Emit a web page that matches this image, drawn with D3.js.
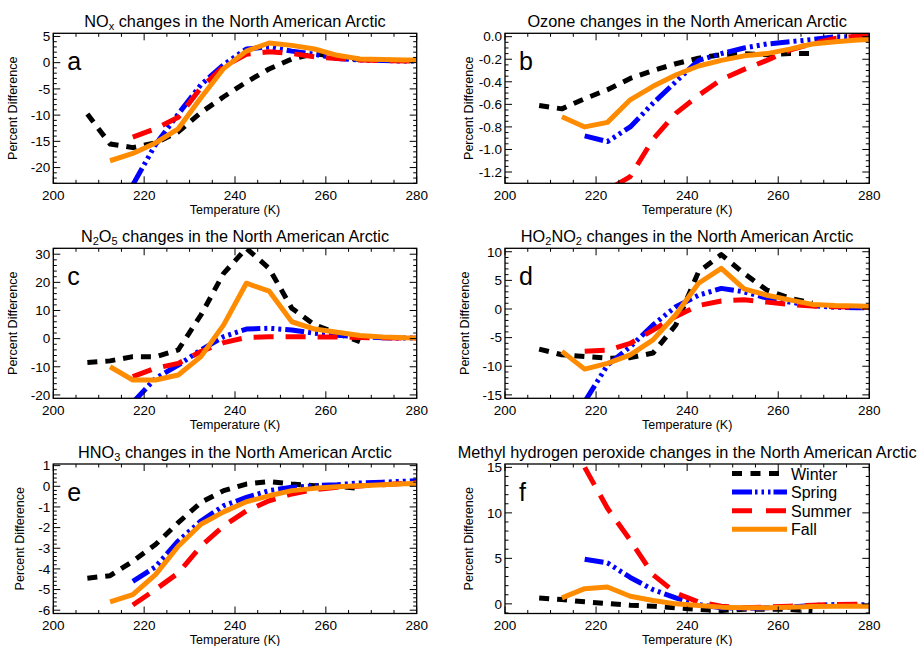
<!DOCTYPE html>
<html><head><meta charset="utf-8">
<script src="https://cdn.jsdelivr.net/npm/d3@7"></script>
<style>
html,body{margin:0;padding:0;background:#fff;}
text{font-family:"Liberation Sans",Arial,Helvetica,sans-serif;fill:#000;}
</style></head>
<body>
<svg id="chart" width="917" height="646"></svg>
<script>
// ---------- DATA ----------
const temps = [207.5,212.5,217.5,222.5,227.5,232.5,237.5,242.5,247.5,252.5,257.5,262.5,267.5,272.5,277.5,282.5];
const seasons = ["Winter","Spring","Summer","Fall"];

// a: NOx
const noxWinter = [-9.8,-15.5,-16.2,-15.3,-13.2,-9.5,-6.5,-3.7,-1.2,0.7,1.7,1.2,0.6,null,null,null];
const noxSpring = [null,null,-23.3,-15.6,-9.8,-4.2,-0.4,2.6,3.0,2.2,1.6,0.8,0.5,0.4,0.3,0.3];
const noxSummer = [null,null,-14.2,-12.6,-10.4,-4.8,-0.75,1.6,2.1,1.75,1.1,0.8,0.5,0.4,0.3,0.3];
const noxFall   = [null,-18.7,-17.3,-15.3,-12.6,-6.7,-1.1,2.2,3.75,3.3,2.6,1.4,0.7,0.6,0.5,0.5];
// b: Ozone
const o3Winter = [-0.61,-0.64,-0.55,-0.47,-0.37,-0.30,-0.24,-0.19,-0.16,-0.15,-0.16,-0.15,-0.15,null,null,null];
const o3Spring = [null,null,-0.88,-0.93,-0.80,-0.59,-0.40,-0.21,-0.15,-0.10,-0.065,-0.045,-0.025,0,0,0];
const o3Summer = [null,null,-1.42,-1.36,-1.24,-0.91,-0.68,-0.52,-0.38,-0.29,-0.21,-0.12,-0.06,-0.015,0.005,0.01];
const o3Fall   = [null,-0.71,-0.80,-0.76,-0.56,-0.44,-0.34,-0.26,-0.21,-0.17,-0.15,-0.11,-0.065,-0.045,-0.03,-0.02];
// c: N2O5
const n2o5Winter = [-8.5,-7.9,-6.4,-6.5,-4.0,8.4,23.2,32.1,25,10.8,4.9,1.9,-1.1,null,null,null];
const n2o5Spring = [null,null,-22.7,-14.1,-9.4,-4.0,0.7,3.4,3.7,3.1,1.9,1.2,0.7,0.3,0.2,0.2];
const n2o5Summer = [null,null,-13.5,-10.5,-8.8,-4.6,-1.4,0.4,0.7,0.7,0.6,0.6,0.4,0.3,0.2,0.2];
const n2o5Fall   = [null,-10,-14.7,-14.7,-12.9,-6.4,4.9,19.7,16.9,6.0,3.4,2.3,1.1,0.6,0.3,0.2];
// d: HO2NO2
const pnaWinter = [-7.0,-8.0,-8.3,-8.6,-8.5,-7.7,-2.8,6.5,9.5,6.2,3.3,1.9,1.0,null,null,null];
const pnaSpring = [null,null,-16.2,-9.8,-6.6,-2.8,0.4,2.4,3.6,3.0,1.9,1.2,0.6,0.3,0.2,0.2];
const pnaSummer = [null,null,-7.4,-7.2,-6.0,-3.7,-1.3,0.6,1.4,1.6,1.2,0.8,0.5,0.4,0.3,0.3];
const pnaFall   = [null,-7.4,-10.5,-9.5,-8.0,-5.4,-1.0,4.5,7.1,3.5,2.4,1.6,0.8,0.6,0.5,0.4];
// e: HNO3
const hno3Winter = [-4.45,-4.33,-3.63,-2.82,-1.76,-0.78,-0.21,0.11,0.23,0.11,0.03,0,-0.1,null,null,null];
const hno3Spring = [null,null,-4.6,-3.9,-2.65,-1.68,-0.94,-0.54,-0.21,-0.05,0.03,0.08,0.16,0.2,0.25,0.28];
const hno3Summer = [null,null,-5.75,-5.0,-4.2,-2.9,-1.92,-1.19,-0.70,-0.37,-0.16,-0.05,0.02,0.08,0.15,0.2];
const hno3Fall   = [null,-5.6,-5.25,-4.28,-2.9,-1.84,-1.24,-0.75,-0.46,-0.21,-0.1,-0.02,0.03,0.07,0.12,0.15];
// f: Methyl hydrogen peroxide
const mhpWinter = [0.65,0.47,0.22,0.04,-0.15,-0.25,-0.44,-0.6,-0.73,-0.6,-0.6,-0.6,-0.8,null,null,null];
const mhpSpring = [null,null,4.9,4.5,2.9,1.56,0.65,-0.07,-0.44,-0.5,-0.44,-0.36,-0.18,-0.07,-0.1,-0.1];
const mhpSummer = [null,null,15.0,10.5,7.0,3.2,1.2,0.2,-0.25,-0.44,-0.36,-0.25,-0.15,-0.07,-0.05,-0.05];
const mhpFall   = [null,0.65,1.67,1.85,0.84,0.36,0.0,-0.18,-0.36,-0.44,-0.44,-0.36,-0.3,-0.25,-0.25,-0.25];

const xTicks = [200,220,240,260,280];
const yTicksA = [5,0,-5,-10,-15,-20];
const yTicksB = [0,-0.2,-0.4,-0.6,-0.8,-1.0,-1.2];
const yTicksC = [30,20,10,0,-10,-20];
const yTicksD = [10,5,0,-5,-10,-15];
const yTicksE = [1,0,-1,-2,-3,-4,-5,-6];
const yTicksF = [15,10,5,0];

// ---------- STYLE ----------
const seasonColor = {Winter:"#000000", Spring:"#0000ff", Summer:"#ff0000", Fall:"#ff8c00"};
const seasonDash = {Winter:"10,8", Spring:"19,4,3,4,3,4,3,4", Summer:"20,12", Fall:null};

const panels = [
  {id:"a", title:["NO",{sub:"x"}," changes in the North American Arctic"], series:[noxWinter,noxSpring,noxSummer,noxFall],
   yDomain:[-23,5.6], yTicks:yTicksA, yMinor:1, fmt:d3.format("d"), col:0, row:0},
  {id:"b", title:["Ozone changes in the North American Arctic"], series:[o3Winter,o3Spring,o3Summer,o3Fall],
   yDomain:[-1.3,0.03], yTicks:yTicksB, yMinor:0.05, fmt:d3.format(".1f"), col:1, row:0},
  {id:"c", title:["N",{sub:"2"},"O",{sub:"5"}," changes in the North American Arctic"], series:[n2o5Winter,n2o5Spring,n2o5Summer,n2o5Fall],
   yDomain:[-21.2,32.1], yTicks:yTicksC, yMinor:2, fmt:d3.format("d"), col:0, row:1},
  {id:"d", title:["HO",{sub:"2"},"NO",{sub:"2"}," changes in the North American Arctic"], series:[pnaWinter,pnaSpring,pnaSummer,pnaFall],
   yDomain:[-15.6,10.6], yTicks:yTicksD, yMinor:1, fmt:d3.format("d"), col:1, row:1},
  {id:"e", title:["HNO",{sub:"3"}," changes in the North American Arctic"], series:[hno3Winter,hno3Spring,hno3Summer,hno3Fall],
   yDomain:[-6.16,1.08], yTicks:yTicksE, yMinor:0.2, fmt:d3.format("d"), col:0, row:2},
  {id:"f", title:["Methyl hydrogen peroxide changes in the North American Arctic"], series:[mhpWinter,mhpSpring,mhpSummer,mhpFall],
   yDomain:[-1.06,15.37], yTicks:yTicksF, yMinor:1, fmt:d3.format("d"), col:1, row:2, legend:true}
];

const colX = [[53.3,416.7],[505,869.3]];
const rowY = [[33.3,183.3],[248.3,398.3],[464,613.5]];

const svg = d3.select("#chart");
const fmtMinus = f => v => f(v).replace("−","-");

panels.forEach(p => {
  const [x0,x1] = colX[p.col];
  const [y0,y1] = rowY[p.row];
  const x = d3.scaleLinear().domain([200,280]).range([x0,x1]);
  const y = d3.scaleLinear().domain(p.yDomain).range([y1,y0]);
  const g = svg.append("g");

  const clipId = "clip-"+p.id;
  svg.append("clipPath").attr("id",clipId).append("rect")
    .attr("x",x0).attr("y",y0).attr("width",x1-x0).attr("height",y1-y0);

  // lines
  const line = d3.line().defined(d=>d[1]!==null).x(d=>x(d[0])).y(d=>y(d[1]));
  const lg = g.append("g").attr("clip-path","url(#"+clipId+")");
  p.series.forEach((vals,i) => {
    const s = seasons[i];
    const data = temps.map((t,k)=>[t,vals[k]]);
    lg.append("path").datum(data).attr("d",line)
      .attr("fill","none").attr("stroke",seasonColor[s]).attr("stroke-width",5)
      .attr("stroke-dasharray",seasonDash[s]).attr("stroke-linejoin","round");
  });

  // frame
  g.append("rect").attr("x",x0).attr("y",y0).attr("width",x1-x0).attr("height",y1-y0)
    .attr("fill","none").attr("stroke","#000").attr("stroke-width",1.3);

  // ticks, inward on all four sides
  const xMinor = d3.range(200,280.01,5).filter(v=>v%20!==0);
  const tg = g.append("g").attr("stroke","#000").attr("stroke-width",1);
  xTicks.forEach(v=>{
    tg.append("line").attr("x1",x(v)).attr("x2",x(v)).attr("y1",y1).attr("y2",y1-7);
    tg.append("line").attr("x1",x(v)).attr("x2",x(v)).attr("y1",y0).attr("y2",y0+7);
  });
  xMinor.forEach(v=>{
    tg.append("line").attr("x1",x(v)).attr("x2",x(v)).attr("y1",y1).attr("y2",y1-3.5);
    tg.append("line").attr("x1",x(v)).attr("x2",x(v)).attr("y1",y0).attr("y2",y0+3.5);
  });
  const [dmin,dmax] = p.yDomain;
  const yMinorVals = d3.range(Math.ceil(dmin/p.yMinor-1e-6), Math.floor(dmax/p.yMinor+1e-6)+1)
     .map(k=>+(k*p.yMinor).toFixed(4))
     .filter(v=>!p.yTicks.some(t=>Math.abs(t-v)<1e-6));
  p.yTicks.forEach(v=>{
    tg.append("line").attr("x1",x0).attr("x2",x0+7).attr("y1",y(v)).attr("y2",y(v));
    tg.append("line").attr("x1",x1).attr("x2",x1-7).attr("y1",y(v)).attr("y2",y(v));
  });
  yMinorVals.forEach(v=>{
    tg.append("line").attr("x1",x0).attr("x2",x0+3.5).attr("y1",y(v)).attr("y2",y(v));
    tg.append("line").attr("x1",x1).attr("x2",x1-3.5).attr("y1",y(v)).attr("y2",y(v));
  });

  // tick labels
  xTicks.forEach(v=>{
    g.append("text").attr("x",x(v)).attr("y",y1+16.5).attr("text-anchor","middle")
      .attr("font-size",13.5).text(v);
  });
  p.yTicks.forEach(v=>{
    g.append("text").attr("x",x0-3).attr("y",y(v)+4.8).attr("text-anchor","end")
      .attr("font-size",13.5).text(fmtMinus(p.fmt)(v));
  });

  // axis titles
  g.append("text").attr("x",(x0+x1)/2).attr("y",y1+30.5).attr("text-anchor","middle")
    .attr("font-size",12.5).text("Temperature (K)");
  const lblX = p.id==="e" ? x0-29 : (p.id==="b"||p.id==="f") ? x0-32 : x0-36;
  g.append("text").attr("transform",`translate(${lblX},${(y0+y1)/2}) rotate(-90)`)
    .attr("text-anchor","middle").attr("font-size",12.5).text("Percent Difference");

  // title with subscripts
  const t = g.append("text").attr("x",(x0+x1)/2).attr("y",y0-6).attr("text-anchor","middle").attr("font-size",16.3);
  let shift = 0;
  p.title.forEach(part=>{
    if (typeof part === "string") {
      const ts = t.append("tspan").text(part);
      if (shift) { ts.attr("dy",-shift); shift = 0; }
    } else {
      t.append("tspan").attr("font-size",11).attr("dy",3).text(part.sub);
      shift = 3;
    }
  });

  // panel letter
  g.append("text").attr("x",x0+14).attr("y",y0+37).attr("font-size",25).text(p.id);

  // legend
  if (p.legend) {
    const lg2 = g.append("g");
    seasons.forEach((s,i)=>{
      const yy = y0 + 9.5 + i*18.6;
      lg2.append("line").attr("x1",732).attr("x2",787).attr("y1",yy).attr("y2",yy)
        .attr("stroke",seasonColor[s]).attr("stroke-width",5)
        .attr("stroke-dasharray", s==="Winter" ? "10,8.5" : s==="Spring" ? "20,3,2.5,4,2.5,4,2.5,3" : s==="Summer" ? "20,14" : null);
      lg2.append("text").attr("x",791).attr("y",yy+6).attr("font-size",16).text(s);
    });
  }
});
</script>
</body></html>
